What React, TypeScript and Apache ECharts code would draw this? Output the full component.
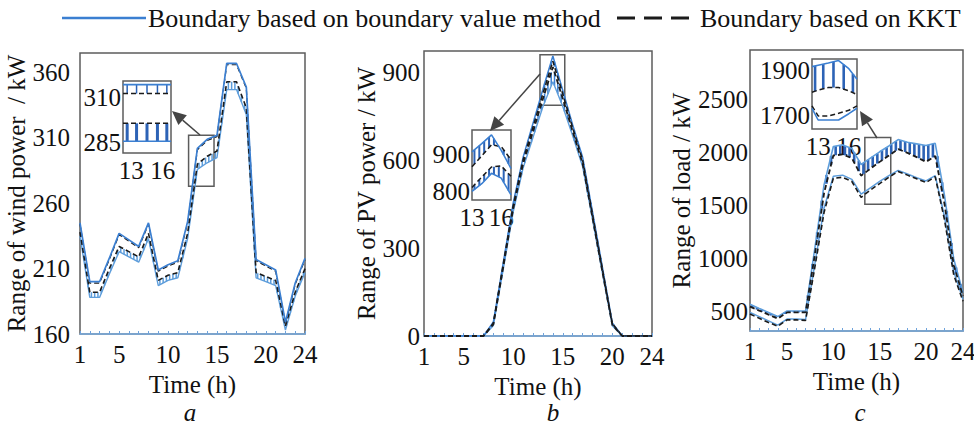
import React, { useEffect, useRef } from "react";
import * as echarts from "echarts";

// ---------- data ----------
const hours = [1, 2, 3, 4, 5, 6, 7, 8, 9, 10, 11, 12, 13, 14, 15, 16, 17, 18, 19, 20, 21, 22, 23, 24];
const xLabelHours = [1, 5, 10, 15, 20, 24];

// (a) wind power, kW
const windBlueUpper = [245, 200, 200, 218, 237, 232, 227, 245, 209, 213, 216, 246, 302, 309, 312, 367, 367, 349, 217, 213, 209, 169, 199, 218];
const windKktUpper = [244, 199, 199, 217, 236, 231, 226, 244, 208, 212, 215, 245, 301, 308, 311, 366, 366, 348, 216, 212, 208, 168, 198, 217];
const windKktLower = [238, 192, 192, 210, 227, 223, 219, 237, 201, 205, 207, 237, 290, 296, 300, 353, 353, 333, 207, 204, 201, 166, 192, 210];
const windBlueLower = [235, 188, 188, 206, 223, 219, 215, 233, 197, 201, 203, 233, 286, 291, 295, 347, 347, 328, 203, 200, 197, 163, 189, 207];
const windTicks = [160, 210, 260, 310, 360];

// (b) PV power, kW
const pvBlueUpper = [0, 0, 0, 0, 0, 0, 0, 48, 252, 455, 612, 728, 845, 958, 840, 722, 612, 425, 235, 45, 0, 0, 0, 0];
const pvKktUpper = [0, 0, 0, 0, 0, 0, 0, 44, 246, 446, 602, 715, 830, 940, 828, 712, 602, 415, 228, 42, 0, 0, 0, 0];
const pvKktLower = [0, 0, 0, 0, 0, 0, 0, 40, 238, 436, 590, 700, 812, 920, 812, 700, 590, 405, 220, 38, 0, 0, 0, 0];
const pvBlueLower = [0, 0, 0, 0, 0, 0, 0, 36, 230, 425, 575, 680, 785, 870, 785, 685, 580, 398, 214, 35, 0, 0, 0, 0];
const pvTicks = [0, 300, 600, 900];

// (c) load, kW
const loadBlueUpper = [572, 533, 495, 456, 509, 509, 509, 1100, 1700, 2060, 2075, 2040, 1890, 1950, 2010, 2065, 2125, 2100, 2085, 2070, 2090, 1600, 1000, 680];
const loadKktUpper = [550, 512, 475, 437, 495, 495, 495, 1040, 1620, 1975, 1985, 1950, 1785, 1850, 1915, 1975, 2035, 2000, 1960, 1915, 1970, 1520, 940, 650];
const loadBlueLower = [495, 455, 415, 375, 432, 432, 428, 950, 1480, 1780, 1790, 1750, 1610, 1670, 1730, 1785, 1835, 1800, 1765, 1735, 1785, 1400, 880, 620];
const loadKktLower = [480, 440, 400, 365, 425, 425, 420, 920, 1440, 1760, 1770, 1730, 1580, 1650, 1710, 1770, 1825, 1790, 1755, 1720, 1775, 1370, 850, 600];
const loadTicks = [500, 1000, 1500, 2000, 2500];

// zoomed windows: [hourFrom, hourTo, valueLow, valueHigh]
const windZoom = [12.1, 14.7, 273, 312];
const pvZoom = [12.7, 15.2, 789, 962];
const loadZoom = [13.4, 16.2, 1515, 2144];

// insets (magnified views, hours 13-16)
const insetTickHours = [13, 16];
const insetWindHours = [12.2, 13, 14, 15, 16, 16.8];
const insetWindBlueUpper = [317, 317, 317, 317, 317, 317];
const insetWindKktUpper = [312, 312, 312, 312, 312, 312];
const insetWindKktLower = [295.5, 295.5, 295.5, 295.5, 295.5, 295.5];
const insetWindBlueLower = [285.5, 285.5, 285.5, 285.5, 285.5, 285.5];
const insetWindTicks = [285, 310];

const insetPvHours = [13, 14, 15, 16, 17];
const insetPvBlueUpper = [906, 928, 952, 910, 861];
const insetPvKktUpper = [866, 895, 925, 920, 885];
const insetPvKktLower = [810, 838, 865, 868, 840];
const insetPvBlueLower = [799, 820, 848, 835, 790];
const insetPvTicks = [800, 900];

const insetLoadHours = [12.4, 13, 14, 15, 16, 16.8];
const insetLoadBlueUpper = [1919, 1925, 1935, 1946, 1910, 1863];
const insetLoadKktUpper = [1805, 1815, 1826, 1826, 1812, 1795];
const insetLoadKktLower = [1745, 1700, 1700, 1712, 1725, 1745];
const insetLoadBlueLower = [1734, 1682, 1682, 1682, 1710, 1734];
const insetLoadTicks = [1700, 1900];

// ---------- styles ----------
const FONT = "Liberation Serif";
const FS = 25;
const BLUE = "#3b7fd1";
const LIGHT_BLUE = "#5d9ddb";
const HATCH = "#2d63b6";
const BLACK = "#1b1b1b";
const BOX = "#5c5c5c";
const TEXT = "#111";

const plain = (v: number) => String(v);
const pairs = (xs: number[], ys: number[]) => xs.map((x, i) => [x, ys[i]]);

function solid(idx: number, xs: number[], ys: number[], color: string, width: number, z: number, extra: any = {}) {
  return {
    type: "line",
    xAxisIndex: idx,
    yAxisIndex: idx,
    data: pairs(xs, ys),
    symbol: "none",
    silent: true,
    z,
    lineStyle: { color, width, type: "solid" },
    ...extra,
  };
}

function dashed(idx: number, xs: number[], ys: number[], z: number, width = 1.6) {
  return {
    type: "line",
    xAxisIndex: idx,
    yAxisIndex: idx,
    data: pairs(xs, ys),
    symbol: "none",
    silent: true,
    z,
    lineStyle: { color: BLACK, width, type: [5, 3] },
  };
}

function hatch(idx: number, xs: number[], lows: number[], highs: number[], perSeg: number, width: number, color: string, z: number) {
  return {
    type: "custom",
    xAxisIndex: idx,
    yAxisIndex: idx,
    silent: true,
    z,
    encode: { x: 0, y: [1, 2] },
    data: xs.slice(0, -1).map((x, i) => [x, lows[i], highs[i]]),
    renderItem: (params: any, api: any) => {
      const i = params.dataIndex;
      const children: any[] = [];
      for (let k = 0; k < perSeg; k++) {
        const t = (k + 0.5) / perSeg;
        const x = xs[i] + (xs[i + 1] - xs[i]) * t;
        const lo = lows[i] + (lows[i + 1] - lows[i]) * t;
        const hi = highs[i] + (highs[i + 1] - highs[i]) * t;
        const p1 = api.coord([x, lo]);
        const p2 = api.coord([x, hi]);
        children.push({
          type: "line",
          shape: { x1: p1[0], y1: p1[1], x2: p2[0], y2: p2[1] },
          style: { stroke: color, lineWidth: width },
        });
      }
      return { type: "group", children };
    },
  };
}

function zoomBox(z: number[]) {
  return {
    silent: true,
    itemStyle: { color: "rgba(0,0,0,0)", borderColor: BOX, borderWidth: 1.5 },
    label: { show: false },
    data: [[{ xAxis: z[0], yAxis: z[3] }, { xAxis: z[1], yAxis: z[2] }]],
  };
}

function arrow(x1: number, y1: number, x2: number, y2: number) {
  const dx = x2 - x1;
  const dy = y2 - y1;
  const len = Math.hypot(dx, dy);
  const ux = dx / len;
  const uy = dy / len;
  const hl = 14;
  const hw = 6.5;
  const bx = x2 - ux * hl;
  const by = y2 - uy * hl;
  return [
    { type: "line", z: 100, shape: { x1, y1, x2: bx, y2: by }, style: { stroke: "#444", lineWidth: 1.5 } },
    {
      type: "polygon",
      z: 100,
      shape: { points: [[x2, y2], [bx - uy * hw, by + ux * hw], [bx + uy * hw, by - ux * hw]] },
      style: { fill: "#444" },
    },
  ];
}

const labelStyle = { fontFamily: FONT, fontSize: FS, color: TEXT };

function mainX(idx: number) {
  return {
    type: "value",
    gridIndex: idx,
    min: 1,
    max: 24,
    name: "Time (h)",
    nameLocation: "middle",
    nameGap: 34,
    nameTextStyle: { ...labelStyle },
    axisLine: { show: true, onZero: false, lineStyle: { color: "#7aaee3", width: 1.5 } },
    axisTick: { show: true, inside: true, length: 3, customValues: hours, lineStyle: { color: "#6fa3dc" } },
    axisLabel: { ...labelStyle, margin: 8, customValues: xLabelHours, formatter: plain },
    splitLine: { show: false },
  };
}

function mainY(idx: number, min: number, max: number, ticks: number[], name: string, gap: number, margin: number) {
  return {
    type: "value",
    gridIndex: idx,
    min,
    max,
    name,
    nameLocation: "middle",
    nameRotate: 90,
    nameGap: gap,
    nameTextStyle: { ...labelStyle },
    axisLine: { show: false },
    axisTick: { show: false },
    axisLabel: { ...labelStyle, margin, customValues: ticks, formatter: plain },
    splitLine: { show: false },
  };
}

function insetX(idx: number, min: number, max: number) {
  return {
    type: "value",
    gridIndex: idx,
    min,
    max,
    axisLine: { show: false },
    axisTick: { show: false },
    axisLabel: { ...labelStyle, margin: 5, customValues: insetTickHours, formatter: plain },
    splitLine: { show: false },
  };
}

function insetY(idx: number, min: number, max: number, ticks: number[]) {
  return {
    type: "value",
    gridIndex: idx,
    min,
    max,
    axisLine: { show: false },
    axisTick: { show: false },
    axisLabel: { ...labelStyle, margin: 2, customValues: ticks, formatter: plain },
    splitLine: { show: false },
  };
}

const gridBase = { show: true, borderColor: BOX, borderWidth: 1.5, backgroundColor: "#fff", containLabel: false, outerBoundsMode: "none" };

const letterStyle = { fontFamily: FONT, fontSize: FS, fontStyle: "italic", fill: TEXT, align: "center", verticalAlign: "middle" };

export default function App() {
  const ref = useRef<HTMLDivElement | null>(null);

  useEffect(() => {
    if (!ref.current) return;
    const chart = echarts.init(ref.current, undefined, { renderer: "svg" });

    const option: any = {
      animation: false,
      backgroundColor: "#fff",
      textStyle: { fontFamily: FONT },
      grid: [
        { ...gridBase, left: 80, top: 53, width: 225, height: 281 },
        { ...gridBase, left: 424, top: 51, width: 228, height: 285 },
        { ...gridBase, left: 750, top: 50, width: 213, height: 281 },
        { ...gridBase, left: 123, top: 81, width: 48, height: 72, z: 5 },
        { ...gridBase, left: 472, top: 130, width: 39, height: 70, z: 5 },
        { ...gridBase, left: 812, top: 59, width: 45, height: 70, z: 5 },
      ],
      xAxis: [
        mainX(0),
        mainX(1),
        mainX(2),
        insetX(3, 12.2, 16.8),
        insetX(4, 13, 17),
        insetX(5, 12.4, 16.8),
      ],
      yAxis: [
        mainY(0, 160, 375, windTicks, "Range of wind power  / kW", 47, 10),
        mainY(1, 0, 975, pvTicks, "Range of PV power / kW", 42, 4),
        mainY(2, 320, 2970, loadTicks, "Range of load / kW", 47, 2),
        insetY(3, 279, 319, insetWindTicks),
        insetY(4, 776, 965, insetPvTicks),
        insetY(5, 1642, 1953, insetLoadTicks),
      ],
      series: [
        // (a)
        hatch(0, hours, windKktLower, windBlueLower, 3, 1.5, LIGHT_BLUE, 2),
        solid(0, hours, windBlueLower, LIGHT_BLUE, 1.4, 3),
        dashed(0, hours, windKktUpper, 3, 1.2),
        dashed(0, hours, windKktLower, 4),
        solid(0, hours, windBlueUpper, BLUE, 1.7, 5, { markArea: zoomBox(windZoom) }),
        // (b)
        hatch(1, hours, pvKktUpper, pvBlueUpper, 3, 1.5, BLUE, 2),
        hatch(1, hours, pvKktLower, pvBlueLower, 3, 1.5, BLUE, 2),
        solid(1, hours, pvBlueLower, LIGHT_BLUE, 1.4, 3),
        solid(1, hours, pvBlueUpper, BLUE, 1.5, 3),
        dashed(1, hours, pvKktUpper, 4),
        dashed(1, hours, pvKktLower, 4, 1.8),
        solid(1, [hours[0], hours[23]], [pvBlueUpper[0], pvBlueUpper[23]], "rgba(0,0,0,0)", 0, 1, { markArea: zoomBox(pvZoom) }),
        // (c)
        hatch(2, hours, loadKktUpper, loadBlueUpper, 2, 2.6, HATCH, 2),
        solid(2, hours, loadBlueUpper, LIGHT_BLUE, 1.6, 3),
        solid(2, hours, loadBlueLower, LIGHT_BLUE, 1.5, 3),
        dashed(2, hours, loadKktUpper, 4, 1.8),
        dashed(2, hours, loadKktLower, 4, 1.6),
        solid(2, [hours[0], hours[23]], [loadBlueUpper[0], loadBlueUpper[23]], "rgba(0,0,0,0)", 0, 1, { markArea: zoomBox(loadZoom) }),
        // inset a
        hatch(3, insetWindHours, insetWindKktUpper, insetWindBlueUpper, 1, 1.5, HATCH, 6),
        hatch(3, insetWindHours, insetWindBlueLower, insetWindKktLower, 1, 3, HATCH, 6),
        dashed(3, insetWindHours, insetWindKktUpper, 7, 1.5),
        dashed(3, insetWindHours, insetWindKktLower, 7, 1.5),
        solid(3, insetWindHours, insetWindBlueUpper, BLUE, 1.6, 8),
        solid(3, insetWindHours, insetWindBlueLower, BLUE, 1.6, 8),
        // inset b
        hatch(4, insetPvHours, insetPvKktUpper, insetPvBlueUpper, 2, 2, HATCH, 6),
        hatch(4, insetPvHours, insetPvBlueLower, insetPvKktLower, 2, 2, HATCH, 6),
        dashed(4, insetPvHours, insetPvKktUpper, 7, 1.5),
        dashed(4, insetPvHours, insetPvKktLower, 7, 1.5),
        solid(4, insetPvHours, insetPvBlueUpper, BLUE, 1.6, 8),
        solid(4, insetPvHours, insetPvBlueLower, BLUE, 1.6, 8),
        // inset c
        hatch(5, insetLoadHours, insetLoadKktUpper, insetLoadBlueUpper, 1, 2.6, HATCH, 6),
        dashed(5, insetLoadHours, insetLoadKktUpper, 7, 1.5),
        dashed(5, insetLoadHours, insetLoadKktLower, 7, 1.5),
        solid(5, insetLoadHours, insetLoadBlueUpper, BLUE, 1.6, 8),
        solid(5, insetLoadHours, insetLoadBlueLower, BLUE, 1.6, 8),
      ],
      graphic: [
        { type: "line", z: 100, shape: { x1: 62, y1: 18, x2: 146, y2: 18 }, style: { stroke: BLUE, lineWidth: 2.5 } },
        {
          type: "text",
          z: 100,
          x: 148,
          y: 18,
          style: { text: "Boundary based on boundary value method", fontFamily: FONT, fontSize: 26, fill: TEXT, verticalAlign: "middle", align: "left" },
        },
        { type: "line", z: 100, shape: { x1: 617, y1: 18, x2: 697, y2: 18 }, style: { stroke: BLACK, lineWidth: 3, lineDash: [18, 9] } },
        {
          type: "text",
          z: 100,
          x: 700,
          y: 18,
          style: { text: "Boundary based on KKT", fontFamily: FONT, fontSize: 26, fill: TEXT, verticalAlign: "middle", align: "left" },
        },
        ...arrow(200, 135, 172, 111),
        ...arrow(540, 74, 490, 131),
        ...arrow(877, 138, 860, 111),
        { type: "text", z: 100, x: 190, y: 412, style: { text: "a", ...letterStyle } },
        { type: "text", z: 100, x: 553, y: 412, style: { text: "b", ...letterStyle } },
        { type: "text", z: 100, x: 860, y: 412, style: { text: "c", ...letterStyle } },
      ],
    };

    chart.setOption(option);
    return () => chart.dispose();
  }, []);

  return (
    <div
      ref={ref}
      style={{ position: "fixed", left: 0, top: 0, width: 974, height: 432, background: "#fff" }}
    />
  );
}
